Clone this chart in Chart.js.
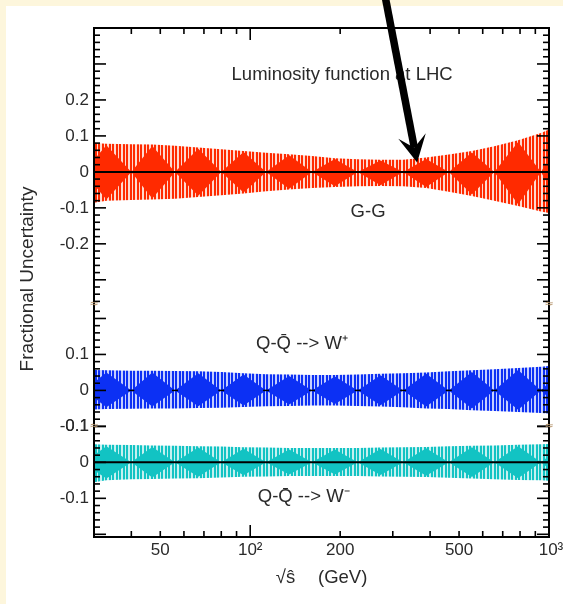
<!DOCTYPE html>
<html><head><meta charset="utf-8">
<script src="https://cdn.jsdelivr.net/npm/chart.js@4.4.1/dist/chart.umd.min.js"></script>
<style>html,body{margin:0;padding:0;background:#fdf6dc;overflow:hidden}canvas{display:block}</style>
</head><body>
<canvas id="c" width="563" height="604"></canvas>
<script>
// ---- data ----
const energies = [30, 33, 40, 47, 56, 67, 80, 95, 113, 135, 161, 192, 229, 273, 325, 388, 462, 552, 656, 788, 940, 1000];

// G-G band
const ggUpper = [0.080, 0.078, 0.077, 0.076, 0.073, 0.068, 0.063, 0.058, 0.053, 0.049, 0.044, 0.038, 0.035, 0.034, 0.034, 0.040, 0.048, 0.058, 0.071, 0.088, 0.108, 0.118];
const ggLower = [-0.086, -0.080, -0.078, -0.077, -0.075, -0.070, -0.065, -0.060, -0.054, -0.049, -0.045, -0.042, -0.040, -0.039, -0.040, -0.045, -0.055, -0.067, -0.080, -0.095, -0.110, -0.114];
const ggCoreUpper = [0.034, 0.074, 0, 0.072, 0, 0.064, 0, 0.055, 0, 0.046, 0, 0.036, 0, 0.032, 0, 0.036, 0, 0.054, 0, 0.083, 0, 0.038];
const ggCoreLower = [-0.036, -0.077, 0, -0.074, 0, -0.066, 0, -0.057, 0, -0.047, 0, -0.040, 0, -0.037, 0, -0.042, 0, -0.063, 0, -0.090, 0, -0.040];

// Q-Qbar -> W+ band
const wpUpper = [0.057, 0.056, 0.055, 0.055, 0.054, 0.053, 0.051, 0.048, 0.045, 0.044, 0.043, 0.043, 0.044, 0.046, 0.048, 0.050, 0.053, 0.056, 0.059, 0.062, 0.066, 0.068];
const wpLower = [-0.053, -0.052, -0.051, -0.050, -0.050, -0.049, -0.048, -0.046, -0.044, -0.043, -0.042, -0.042, -0.043, -0.045, -0.047, -0.050, -0.052, -0.055, -0.057, -0.060, -0.063, -0.064];
const wpCoreUpper = [0.022, 0.050, 0, 0.050, 0, 0.048, 0, 0.044, 0, 0.040, 0, 0.039, 0, 0.042, 0, 0.046, 0, 0.051, 0, 0.057, 0, 0.022];
const wpCoreLower = [-0.020, -0.047, 0, -0.045, 0, -0.044, 0, -0.042, 0, -0.039, 0, -0.038, 0, -0.041, 0, -0.045, 0, -0.050, 0, -0.054, 0, -0.021];
const wpNodeEnergies = [40, 56, 80, 113, 161, 229, 325, 462, 656, 940];

// Q-Qbar -> W- band
const wmUpper = [0.050, 0.049, 0.048, 0.047, 0.046, 0.045, 0.044, 0.042, 0.041, 0.040, 0.040, 0.040, 0.040, 0.041, 0.042, 0.043, 0.045, 0.046, 0.047, 0.049, 0.050, 0.051];
const wmLower = [-0.055, -0.050, -0.047, -0.046, -0.045, -0.044, -0.042, -0.040, -0.039, -0.038, -0.038, -0.038, -0.038, -0.039, -0.040, -0.041, -0.043, -0.045, -0.047, -0.049, -0.050, -0.051];
const wmCoreUpper = [0.020, 0.045, 0, 0.043, 0, 0.041, 0, 0.038, 0, 0.036, 0, 0.036, 0, 0.037, 0, 0.039, 0, 0.042, 0, 0.045, 0, 0.018];
const wmCoreLower = [-0.022, -0.045, 0, -0.042, 0, -0.040, 0, -0.036, 0, -0.034, 0, -0.034, 0, -0.035, 0, -0.037, 0, -0.041, 0, -0.044, 0, -0.018];

const zeroLineEnergies = [30, 1000];

// ticks / labels
const xTickValues = [50, 100, 200, 500, 1000];
const xTickLabels = ['50', '10²', '200', '500', '10³'];
const ggTickValues = [0.2, 0.1, 0, -0.1, -0.2];
const ggTickLabels = ['0.2', '0.1', '0', '-0.1', '-0.2'];
const wpTickValues = [0.1, 0, -0.1];
const wpTickLabels = ['0.1', '0', '-0.1'];
const wmTickValues = [0.1, 0, -0.1];
const wmTickLabels = ['0.1', '0', '-0.1'];

const titleText = 'Luminosity function at LHC';
const ggText = 'G-G';
const wpText = 'Q-Q\u0304 --> W\u207A';
const wmText = 'Q-Q\u0304 --> W\u207B';
const yTitle = 'Fractional Uncertainty';
const xTitleVar = '\u221As\u0302';
const xTitleUnit = '(GeV)';

// ---- layout constants (not data) ----
const X_MIN = 30, X_MAX = 1000, U_MIN = -1.015, U_MAX = 0.4;
const OFF = { gg: 0, wp: -0.6075, wm: -0.8075 };
const BREAKS = [-0.3686, -0.7075];
const notes = [
  { text: titleText, x: 203, v: 0.269, p: 'gg' },
  { text: ggText, x: 248, v: -0.11, p: 'gg' },
  { text: wpText, x: 149, v: 0.129, p: 'wp' },
  { text: wmText, x: 151, v: -0.097, p: 'wm' }
];
const arrowTail = [281, 0.5];
const arrowTip = [362, 0.026];

const cv = document.getElementById('c');
const mainCtx = cv.getContext('2d');
function stripe(color, gap) {
  const c = document.createElement('canvas'); c.width = 7; c.height = 1;
  const g = c.getContext('2d');
  g.fillStyle = color; g.fillRect(0, 0, 7, 1);
  g.fillStyle = gap; g.fillRect(2, 0, 2, 1); g.fillRect(6, 0, 1, 1);
  return mainCtx.createPattern(c, 'repeat');
}
const pts = (arr, off) => arr.map((v, i) => ({ x: energies[i], y: v + off }));
function band(up, lo, cu, cl, off, color, gap) {
  const base = { borderWidth: 0, borderColor: 'transparent', pointRadius: 0, tension: 0 };
  return [
    Object.assign({ data: pts(up, off), fill: '+1', backgroundColor: stripe(color, gap), order: 5 }, base),
    Object.assign({ data: pts(lo, off), fill: false, order: 5 }, base),
    Object.assign({ data: pts(cu, off), fill: '+1', backgroundColor: color, order: 4 }, base),
    Object.assign({ data: pts(cl, off), fill: false, order: 4 }, base)
  ];
}
const zeroLine = off => ({ data: zeroLineEnergies.map(e => ({ x: e, y: off })), borderColor: '#000', borderWidth: 2, pointRadius: 0, fill: false, order: 1 });

const datasets = [].concat(
  band(ggUpper, ggLower, ggCoreUpper, ggCoreLower, OFF.gg, '#ff2a00', '#ffd9cf'),
  band(wpUpper, wpLower, wpCoreUpper, wpCoreLower, OFF.wp, '#0c30f4', '#c4ceff'),
  band(wmUpper, wmLower, wmCoreUpper, wmCoreLower, OFF.wm, '#12c3c3', '#c6f0f0'),
  [zeroLine(OFF.gg), zeroLine(OFF.wm),
   { data: wpNodeEnergies.map(e => ({ x: e, y: OFF.wp })), showLine: false, pointStyle: 'line', pointRadius: 3, borderColor: '#000', borderWidth: 1.5, backgroundColor: '#000', order: 0 }]
);

const bgPlugin = {
  id: 'bg',
  beforeDraw(chart) {
    const ctx = chart.ctx;
    ctx.save();
    ctx.fillStyle = '#fdf6dc'; ctx.fillRect(0, 0, chart.width, chart.height);
    ctx.fillStyle = '#ffffff'; ctx.fillRect(6, 6, chart.width - 6, chart.height - 6);
    ctx.restore();
  }
};

const framePlugin = {
  id: 'frame',
  afterDraw(chart) {
    const { ctx, chartArea: a, scales: { x, y } } = chart;
    const line = (x1, y1, x2, y2) => { ctx.beginPath(); ctx.moveTo(x1, y1); ctx.lineTo(x2, y2); ctx.stroke(); };
    ctx.save();
    ctx.strokeStyle = '#000'; ctx.fillStyle = '#000';
    // x ticks
    ctx.lineWidth = 1.6;
    for (let d = 1; d <= 3; d++) for (let m = 1; m <= 9; m++) {
      const v = m * Math.pow(10, d);
      if (v <= X_MIN || v >= X_MAX) continue;
      const px = x.getPixelForValue(v);
      const len = m === 1 ? 12 : 6;
      line(px, a.bottom, px, a.bottom - len);
      line(px, a.top, px, a.top + len);
    }
    // y ticks per panel
    const panels = [
      { off: OFF.gg, hi: U_MAX, lo: BREAKS[0] },
      { off: OFF.wp, hi: BREAKS[0], lo: BREAKS[1] },
      { off: OFF.wm, hi: BREAKS[1], lo: U_MIN }
    ];
    panels.forEach(p => {
      const kmin = Math.ceil((p.lo - p.off) * 50 - 1e-6), kmax = Math.floor((p.hi - p.off) * 50 + 1e-6);
      for (let k = kmin; k <= kmax; k++) {
        const py = y.getPixelForValue(k / 50 + p.off);
        if (py < a.top + 1 || py > a.bottom - 1) continue;
        const len = (k % 5 === 0) ? 12 : 6;
        line(a.left, py, a.left + len, py);
        line(a.right, py, a.right - len, py);
      }
    });
    // frame
    ctx.lineWidth = 2;
    ctx.strokeRect(a.left, a.top, a.right - a.left, a.bottom - a.top);
    // break marks
    ctx.fillStyle = '#b4936a';
    ctx.font = '11px "DejaVu Sans"';
    ctx.textAlign = 'center'; ctx.textBaseline = 'middle';
    BREAKS.forEach(b => {
      const py = y.getPixelForValue(b);
      ctx.fillText('\u2248', a.left, py);
      ctx.fillText('\u2248', a.right, py);
    });
    // tick labels
    ctx.fillStyle = '#2a2a2a';
    ctx.font = '17px "Liberation Sans"';
    ctx.textAlign = 'right'; ctx.textBaseline = 'middle';
    const yl = (vals, labs, off) => vals.forEach((v, i) => ctx.fillText(labs[i], a.left - 5, y.getPixelForValue(v + off)));
    yl(ggTickValues, ggTickLabels, OFF.gg);
    yl(wpTickValues, wpTickLabels, OFF.wp);
    yl(wmTickValues, wmTickLabels, OFF.wm);
    ctx.textAlign = 'center';
    xTickValues.forEach((v, i) => ctx.fillText(xTickLabels[i], x.getPixelForValue(v) + (i === xTickLabels.length - 1 ? 2 : 0), a.bottom + 13));
    // annotations
    ctx.font = '18.5px "Liberation Sans"';
    notes.forEach(n => ctx.fillText(n.text, x.getPixelForValue(n.x), y.getPixelForValue(n.v + OFF[n.p])));
    // axis titles
    ctx.fillText(xTitleVar, 285.5, a.bottom + 41);
    ctx.textAlign = 'left';
    ctx.fillText(xTitleUnit, 318, a.bottom + 41);
    ctx.save();
    ctx.translate(27.5, 279); ctx.rotate(-Math.PI / 2);
    ctx.textAlign = 'center'; ctx.font = '19px "Liberation Sans"';
    ctx.fillText(yTitle, 0, 0);
    ctx.restore();
    // arrow
    const t = { x: x.getPixelForValue(arrowTail[0]), y: y.getPixelForValue(arrowTail[1]) };
    const h = { x: x.getPixelForValue(arrowTip[0]), y: y.getPixelForValue(arrowTip[1]) };
    const ang = Math.atan2(h.y - t.y, h.x - t.x), c = Math.cos(ang), s = Math.sin(ang);
    const headLen = 27, headW = 14, notch = 15;
    const bx = h.x - headLen * c, by = h.y - headLen * s;
    const nx = h.x - notch * c, ny = h.y - notch * s;
    ctx.strokeStyle = '#000'; ctx.fillStyle = '#000';
    ctx.lineWidth = 7.5; ctx.lineCap = 'butt';
    line(t.x, t.y, nx, ny);
    ctx.beginPath();
    ctx.moveTo(h.x, h.y);
    ctx.lineTo(bx + headW * s, by - headW * c);
    ctx.lineTo(nx, ny);
    ctx.lineTo(bx - headW * s, by + headW * c);
    ctx.closePath(); ctx.fill();
    ctx.restore();
  }
};

new Chart(cv, {
  type: 'line',
  data: { datasets },
  options: {
    responsive: false, animation: false, devicePixelRatio: 1,
    layout: { padding: { left: 94, right: 14, top: 28, bottom: 67 } },
    plugins: { legend: { display: false }, tooltip: { enabled: false }, filler: { propagate: false } },
    scales: {
      x: { type: 'logarithmic', min: X_MIN, max: X_MAX, display: false },
      y: { type: 'linear', min: U_MIN, max: U_MAX, display: false }
    }
  },
  plugins: [bgPlugin, framePlugin]
});
</script>
</body></html>
